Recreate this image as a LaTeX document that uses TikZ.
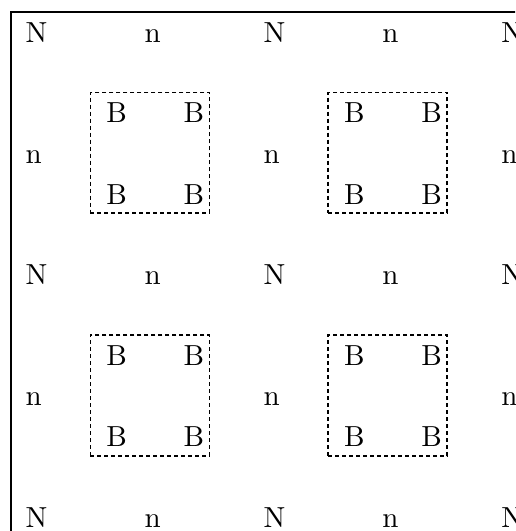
\documentclass[tikz,border=0pt]{standalone}
\newcommand{\bigglyph}[1]{\scalebox{2.9}{#1}}
\begin{document}
\begin{tikzpicture}[x=1pt,y=-1pt,
  lbl/.style={anchor=base west, inner sep=0pt},
  bbox/.style={draw, line width=1.7pt, dash pattern=on 4pt off 3pt, minimum width=119pt, minimum height=120.8pt, inner sep=0pt},
  frameline/.style={line width=2.2pt}]
\useasboundingbox (0,0) rectangle (515,531);
\clip (0,0) rectangle (515,531);
\draw[frameline] (11,545) -- (11,12) -- (530,12);
\foreach \i in {0,...,4}{
  \foreach \j in {0,...,4}{
    \pgfmathsetmacro{\xx}{25.5+\i*118.9}
    \pgfmathsetmacro{\yy}{42+\j*121.25}
    \pgfmathtruncatemacro{\oi}{mod(\i,2)}
    \pgfmathtruncatemacro{\oj}{mod(\j,2)}
    \ifnum\oi=0
      \ifnum\oj=0
        \node[lbl] (t\i\j) at (\xx,\yy) {\bigglyph{N}};
      \else
        \node[lbl] (t\i\j) at (\xx,\yy) {\bigglyph{n}};
      \fi
    \else
      \ifnum\oj=0
        \node[lbl] (t\i\j) at (\xx,\yy) {\bigglyph{n}};
      \else
        \node[bbox] (box\i\j) at (\xx+5.55,\yy-10.4) {};
        \node[lbl] (bA\i\j) at (\xx-38.3,\yy-40.6) {\bigglyph{B}};
        \node[lbl] (bB\i\j) at (\xx+39,\yy-40.6) {\bigglyph{B}};
        \node[lbl] (bC\i\j) at (\xx-38.3,\yy+40.75) {\bigglyph{B}};
        \node[lbl] (bD\i\j) at (\xx+39,\yy+40.75) {\bigglyph{B}};
      \fi
    \fi
  }
}
\end{tikzpicture}
\end{document}
